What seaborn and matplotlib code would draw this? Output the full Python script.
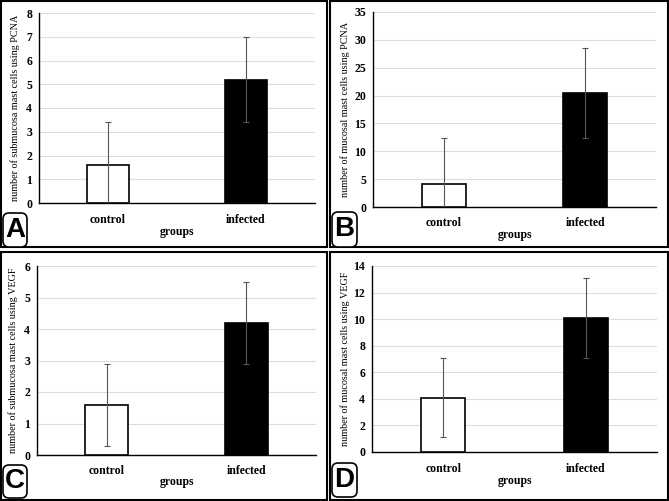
import matplotlib
matplotlib.use("Agg")
import matplotlib.pyplot as plt
import seaborn as sns
import pandas as pd
import numpy as np
from matplotlib.patches import Rectangle, FancyBboxPatch
from matplotlib.transforms import IdentityTransform

sns.set_theme(style="white")
plt.rcParams['font.family'] = ['Liberation Serif', 'DejaVu Serif']
plt.rcParams['text.color'] = 'black'
plt.rcParams['xtick.color'] = 'black'
plt.rcParams['ytick.color'] = 'black'
plt.rcParams['axes.labelcolor'] = 'black'

groups = ["control", "infected"]
pcna_submucosa = [1.6, 5.2]
pcna_submucosa_sd = [1.8, 1.8]
pcna_mucosal = [4.2, 20.5]
pcna_mucosal_sd = [8.2, 8.1]
vegf_submucosa = [1.6, 4.2]
vegf_submucosa_sd = [1.3, 1.3]
vegf_mucosal = [4.1, 10.1]
vegf_mucosal_sd = [3.0, 3.0]

panels = [
    dict(letter="A", vals=pcna_submucosa, sd=pcna_submucosa_sd, ymax=8, step=1,
         ylabel="number of submucosa mast cells using PCNA",
         ax=(39, 315, 13, 203), frame=(1, 327, 1, 247), box=(3, 27, 213, 247), ylx=15, gy=232, cy=217),
    dict(letter="B", vals=pcna_mucosal, sd=pcna_mucosal_sd, ymax=35, step=5,
         ylabel="number of mucosal mast cells using PCNA",
         ax=(373, 656, 12, 207), frame=(330, 668, 1, 247), box=(332, 357, 212, 247), ylx=345, gy=235, cy=220),
    dict(letter="C", vals=vegf_submucosa, sd=vegf_submucosa_sd, ymax=6, step=1,
         ylabel="number of submucosa mast cells using VEGF",
         ax=(37, 316, 266, 455), frame=(1, 327, 252, 500), box=(3, 27, 465, 498), ylx=13, gy=482, cy=468),
    dict(letter="D", vals=vegf_mucosal, sd=vegf_mucosal_sd, ymax=14, step=2,
         ylabel="number of mucosal mast cells using VEGF",
         ax=(372, 657, 266, 452), frame=(330, 668, 252, 500), box=(332, 357, 463, 497), ylx=345, gy=481, cy=466),
]

W, H = 669, 501
fig = plt.figure(figsize=(W / 100, H / 100), dpi=100)

for p in panels:
    x0, x1, yt, yb = p["ax"]
    ax = fig.add_axes([x0 / W, 1 - yb / H, (x1 - x0) / W, (yb - yt) / H])
    df = pd.DataFrame({"group": groups, "value": p["vals"]})
    sns.barplot(data=df, x="group", y="value", hue="group",
                palette=["white", "black"], edgecolor="black", linewidth=1.2,
                width=0.31, errorbar=None, legend=False, ax=ax, zorder=3)
    ax.errorbar(np.arange(len(groups)), p["vals"], yerr=p["sd"], fmt="none",
                ecolor="#555555", elinewidth=0.8, capsize=2.5, capthick=0.8, zorder=4)
    ax.set_xlim(-0.5, 1.5)
    ax.set_ylim(0, p["ymax"])
    ax.set_yticks(np.arange(0, p["ymax"] + 0.001, p["step"]))
    ax.yaxis.grid(True, color="#dddddd", linewidth=0.8, zorder=0)
    ax.set_axisbelow(True)
    for s in ["top", "right"]:
        ax.spines[s].set_visible(False)
    for s in ["left", "bottom"]:
        ax.spines[s].set_color("black")
        ax.spines[s].set_linewidth(1.0)
    ax.tick_params(axis="both", length=0, labelsize=8.5, pad=5)
    for t in ax.get_yticklabels():
        t.set_fontweight("bold")
    ax.set_xticks(range(len(groups)))
    ax.set_xticklabels(groups, fontweight="bold", fontsize=8.5)
    ax.tick_params(axis="x", pad=(p["cy"] - yb) - 6)
    ax.set_xlabel("")
    ax.set_ylabel("")
    fig.text(((x0 + x1) / 2) / W, 1 - p["gy"] / H, "groups", ha="center", va="center",
             fontsize=8.5, fontweight="bold")
    fig.text(p["ylx"] / W, 1 - ((yt + yb) / 2) / H, p["ylabel"], rotation=90,
             ha="center", va="center", fontsize=7.3)

    fx0, fx1, fy0, fy1 = p["frame"]
    fig.patches.append(Rectangle((fx0, H - fy1), fx1 - fx0, fy1 - fy0, fill=False,
                                 edgecolor="black", linewidth=1.5, transform=IdentityTransform(),
                                 figure=fig))
    bx0, bx1, by0, by1 = p["box"]
    fig.patches.append(FancyBboxPatch((bx0, H - by1), bx1 - bx0, by1 - by0,
                                      boxstyle="round,pad=0,rounding_size=6",
                                      facecolor="white", edgecolor="black", linewidth=1.2,
                                      transform=IdentityTransform(), figure=fig))
    fig.text(((bx0 + bx1) / 2) / W, 1 - ((by0 + by1) / 2) / H, p["letter"],
             ha="center", va="center", fontsize=20, fontweight="bold", color="black",
             family=["Liberation Sans", "DejaVu Sans"])

fig.savefig("out.png", dpi=100)
